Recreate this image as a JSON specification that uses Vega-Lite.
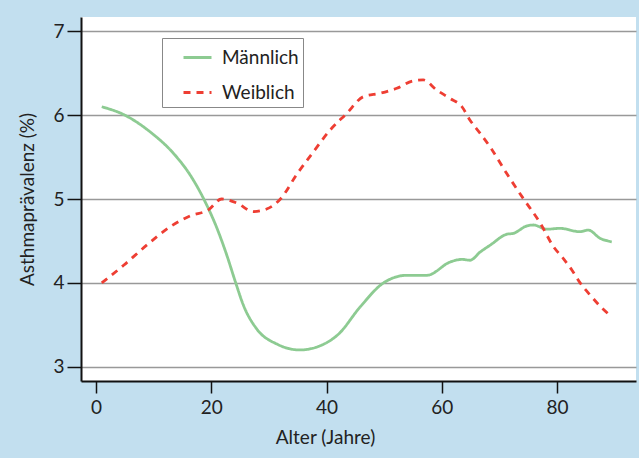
{
  "$schema": "https://vega.github.io/schema/vega-lite/v6.json",
  "autosize": {"type": "none"},
  "width": 555,
  "height": 364,
  "padding": {"left": 81, "top": 17, "right": 3, "bottom": 77},
  "background": "#c2dfef",
  "config": {
    "font": "Lato",
    "view": {"fill": "white", "stroke": null},
    "axis": {"labelFont": "Lato", "titleFont": "Lato", "labelFontSize": 19, "titleFontSize": 19, "titleFontWeight": "normal", "labelColor": "#222", "titleColor": "#222", "domainColor": "#111", "domainWidth": 2, "tickColor": "#111", "tickWidth": 1.5}
  },
  "data": {"values": [
    {"sex": "Männlich", "age": 1, "value": 6.10},
    {"sex": "Männlich", "age": 5, "value": 6.0},
    {"sex": "Männlich", "age": 9.4, "value": 5.80},
    {"sex": "Männlich", "age": 13.5, "value": 5.54},
    {"sex": "Männlich", "age": 16.4, "value": 5.28},
    {"sex": "Männlich", "age": 18.7, "value": 5.0},
    {"sex": "Männlich", "age": 21, "value": 4.65},
    {"sex": "Männlich", "age": 22.7, "value": 4.33},
    {"sex": "Männlich", "age": 24.2, "value": 4.01},
    {"sex": "Männlich", "age": 25.6, "value": 3.73},
    {"sex": "Männlich", "age": 27.9, "value": 3.45},
    {"sex": "Männlich", "age": 31.4, "value": 3.27},
    {"sex": "Männlich", "age": 35.4, "value": 3.20},
    {"sex": "Männlich", "age": 38.9, "value": 3.25},
    {"sex": "Männlich", "age": 42.1, "value": 3.39},
    {"sex": "Männlich", "age": 45.8, "value": 3.71},
    {"sex": "Männlich", "age": 49.9, "value": 4.0},
    {"sex": "Männlich", "age": 53.9, "value": 4.09},
    {"sex": "Männlich", "age": 57.4, "value": 4.09},
    {"sex": "Männlich", "age": 61.5, "value": 4.25},
    {"sex": "Männlich", "age": 63.5, "value": 4.28},
    {"sex": "Männlich", "age": 64.9, "value": 4.27},
    {"sex": "Männlich", "age": 66.7, "value": 4.37},
    {"sex": "Männlich", "age": 68.4, "value": 4.45},
    {"sex": "Männlich", "age": 71.3, "value": 4.58},
    {"sex": "Männlich", "age": 72.4, "value": 4.59},
    {"sex": "Männlich", "age": 74.8, "value": 4.68},
    {"sex": "Männlich", "age": 75.9, "value": 4.69},
    {"sex": "Männlich", "age": 78.2, "value": 4.64},
    {"sex": "Männlich", "age": 80.5, "value": 4.65},
    {"sex": "Männlich", "age": 84, "value": 4.61},
    {"sex": "Männlich", "age": 85.4, "value": 4.63},
    {"sex": "Männlich", "age": 87.5, "value": 4.53},
    {"sex": "Männlich", "age": 89.5, "value": 4.49},
    {"sex": "Weiblich", "age": 1, "value": 4.0},
    {"sex": "Weiblich", "age": 4.8, "value": 4.21},
    {"sex": "Weiblich", "age": 8.8, "value": 4.45},
    {"sex": "Weiblich", "age": 12.9, "value": 4.67},
    {"sex": "Weiblich", "age": 16.4, "value": 4.80},
    {"sex": "Weiblich", "age": 19.5, "value": 4.87},
    {"sex": "Weiblich", "age": 21.8, "value": 5.0},
    {"sex": "Weiblich", "age": 24.5, "value": 4.95},
    {"sex": "Weiblich", "age": 27.3, "value": 4.85},
    {"sex": "Weiblich", "age": 29.6, "value": 4.88},
    {"sex": "Weiblich", "age": 32, "value": 5.0},
    {"sex": "Weiblich", "age": 34.9, "value": 5.30},
    {"sex": "Weiblich", "age": 37.7, "value": 5.56},
    {"sex": "Weiblich", "age": 40.6, "value": 5.82},
    {"sex": "Weiblich", "age": 43.5, "value": 6.02},
    {"sex": "Weiblich", "age": 46.4, "value": 6.22},
    {"sex": "Weiblich", "age": 49.3, "value": 6.26},
    {"sex": "Weiblich", "age": 52.2, "value": 6.32},
    {"sex": "Weiblich", "age": 55.1, "value": 6.41},
    {"sex": "Weiblich", "age": 56.8, "value": 6.42},
    {"sex": "Weiblich", "age": 59.1, "value": 6.30},
    {"sex": "Weiblich", "age": 61.4, "value": 6.20},
    {"sex": "Weiblich", "age": 63.5, "value": 6.10},
    {"sex": "Weiblich", "age": 64.9, "value": 5.94},
    {"sex": "Weiblich", "age": 66.7, "value": 5.78},
    {"sex": "Weiblich", "age": 68.4, "value": 5.62},
    {"sex": "Weiblich", "age": 71.3, "value": 5.30},
    {"sex": "Weiblich", "age": 74.2, "value": 5.0},
    {"sex": "Weiblich", "age": 77.1, "value": 4.71},
    {"sex": "Weiblich", "age": 79.4, "value": 4.43},
    {"sex": "Weiblich", "age": 81.1, "value": 4.29},
    {"sex": "Weiblich", "age": 82.6, "value": 4.15},
    {"sex": "Weiblich", "age": 84, "value": 4.0},
    {"sex": "Weiblich", "age": 85.8, "value": 3.85},
    {"sex": "Weiblich", "age": 87.5, "value": 3.72},
    {"sex": "Weiblich", "age": 89.4, "value": 3.60}
  ]},
  "mark": {"type": "line", "interpolate": "monotone", "strokeWidth": 2.8, "clip": true},
  "encoding": {
    "x": {"field": "age", "type": "quantitative", "title": "Alter (Jahre)",
      "scale": {"domain": [-2.6, 93.7], "nice": false, "zero": false},
      "axis": {"values": [0, 20, 40, 60, 80], "grid": false, "tickSize": 12, "labelPadding": 5, "titlePadding": 11, "titleX": 244, "titleAlign": "center"}},
    "y": {"field": "value", "type": "quantitative", "title": "Asthmaprävalenz (%)",
      "scale": {"domain": [2.83, 7.17], "nice": false, "zero": false},
      "axis": {"values": [3, 4, 5, 6, 7], "grid": true, "gridColor": "#999", "gridWidth": 1.5, "gridOpacity": 1, "tickSize": 14, "labelPadding": 3, "titlePadding": 15}},
    "color": {"field": "sex", "type": "nominal",
      "scale": {"domain": ["Männlich", "Weiblich"], "range": ["#8dcb92", "#ee3e33"]},
      "legend": {"title": null, "orient": "none", "legendX": 81, "legendY": 21, "padding": 4, "strokeColor": "#888", "fillColor": "white", "symbolType": "stroke", "symbolSize": 784, "symbolStrokeWidth": 2.8, "symbolOffset": 16, "labelFont": "Lato", "labelFontSize": 19, "labelColor": "#222", "labelOffset": 9, "rowPadding": 9}},
    "strokeDash": {"field": "sex", "type": "nominal",
      "scale": {"domain": ["Männlich", "Weiblich"], "range": [[1, 0], [7, 6]]},
      "legend": {"title": null, "orient": "none", "legendX": 81, "legendY": 21, "padding": 4, "strokeColor": "#888", "fillColor": "white", "symbolType": "stroke", "symbolSize": 784, "symbolStrokeWidth": 2.8, "symbolOffset": 16, "labelFont": "Lato", "labelFontSize": 19, "labelColor": "#222", "labelOffset": 9, "rowPadding": 9}}
  }
}
